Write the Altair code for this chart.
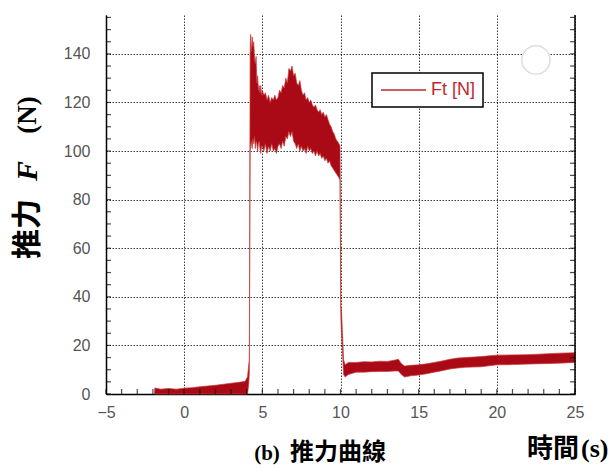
import altair as alt
import pandas as pd

# ---- data (time [s], lower / upper envelope of the noisy thrust band [N]) ----
t_vals = [-1.90, -1.88, -1.5, -1.0, -0.5, 0.0, 0.5, 1.0, 1.5, 2.0, 2.5, 3.0, 3.5, 3.9, 4.05, 4.13, 4.17,
          4.22, 4.25, 4.30, 4.35, 4.40, 4.45, 4.50, 4.55, 4.60, 4.65, 4.70, 4.75, 4.80, 4.85, 4.90, 4.95, 5.00,
          5.10, 5.20, 5.30, 5.40, 5.50, 5.60, 5.70, 5.80, 5.90, 6.00, 6.10, 6.20, 6.30, 6.40,
          6.50, 6.60, 6.70, 6.80, 6.90, 7.00, 7.10, 7.20, 7.30, 7.40, 7.50, 7.60, 7.70, 7.80,
          7.90, 8.00, 8.10, 8.20, 8.30, 8.40, 8.50, 8.60, 8.70, 8.80, 8.90, 9.00, 9.10, 9.20,
          9.30, 9.40, 9.50, 9.60, 9.70, 9.80, 9.90, 9.97, 10.02, 10.06, 10.12, 10.20, 10.30,
          10.5, 11.0, 11.5, 12.0, 12.5, 13.0, 13.5, 13.7, 13.9, 14.1, 14.5, 15.0, 15.5, 16.0,
          16.5, 17.0, 17.5, 18.0, 18.5, 19.0, 19.5, 20.0, 21.0, 22.0, 23.0, 24.0, 25.0]
lo_vals = [0, 0, 0, 0, 0, 0, 0, 0, 0, 0, 0, 0, 0, 0, 0, 4, 9,
           100, 102, 104, 101, 105, 103, 106, 101, 104, 103, 100, 103, 104, 101, 99, 102, 102,
           100, 103, 99, 102, 100, 103, 100, 101, 99, 102, 103, 101, 104, 102,
           106, 105, 108, 106, 108, 104, 103, 101, 103, 100, 102, 100, 101, 99,
           102, 100, 101, 99, 100, 98, 100, 98, 99, 97, 98, 96, 97, 95,
           96, 94, 93, 92, 91, 90, 89, 88, 32, 25, 18, 8, 7,
           8, 9, 9, 9.2, 9.3, 9.3, 9.5, 9.5, 8, 7, 7.5, 7.8, 8.3, 9,
           9.6, 10.3, 10.7, 11, 11.1, 11.2, 11.6, 12, 12.1, 12.3, 12.5, 12.7, 13]
hi_vals = [0, 2.5, 2.0, 2.3, 2.0, 2.4, 2.6, 3.0, 3.3, 3.6, 4.0, 4.4, 4.8, 5.2, 7, 12, 14,
           140, 148, 141, 147, 143, 145, 138, 136, 139, 128, 131, 125, 127, 124, 127, 123, 125,
           123, 124, 121, 123, 120, 122, 121, 123, 121, 122, 125, 124, 127, 126,
           130, 128, 134, 133, 135, 131, 132, 128, 127, 129, 125, 123, 124, 121,
           122, 120, 121, 119, 118, 119, 117, 116, 117, 115, 116, 114, 115, 113,
           111, 110, 108, 107, 105, 104, 103, 102, 36, 35, 26, 14, 12,
           13, 13, 13.3, 13.2, 13.5, 13.4, 14, 14.3, 12.5, 11.5, 11.8, 12, 12.4, 13,
           13.6, 14.3, 14.8, 15, 15.2, 15.4, 15.7, 16, 16.1, 16.2, 16.5, 16.8, 17]
series_name = ["Ft [N]"] * len(t_vals)

x_label_vals = [-5, 0, 5, 10, 15, 20, 25]
y_label_vals = [0, 20, 40, 60, 80, 100, 120, 140]
x_minor_ticks = list(range(-5, 26, 1))
y_minor_ticks = list(range(0, 160, 5))

X_MIN, X_MAX = -5, 25
Y_MIN, Y_MAX = 0, 156

df = pd.DataFrame({"t": t_vals, "lo": lo_vals, "hi": hi_vals, "series": series_name})
xt = pd.DataFrame({"v": x_minor_ticks})
yt = pd.DataFrame({"v": y_minor_ticks})
one = pd.DataFrame({"a": [0]})

W, H = 469, 379
xs = alt.Scale(domain=[X_MIN, X_MAX], nice=False, zero=False)
ys = alt.Scale(domain=[Y_MIN, Y_MAX], nice=False)

LABEL_FONT = "Liberation Sans"
GRID = dict(gridColor="#1a1a1a", gridDash=[1.5, 1.5], gridWidth=1, gridOpacity=0.85)

band = alt.Chart(df).mark_area(
    color="#A90A16", stroke="#C83A3A", strokeWidth=0.7, interpolate="linear"
).encode(
    x=alt.X("t:Q", scale=xs, title=None,
            axis=alt.Axis(values=x_label_vals, grid=True, ticks=False, domainColor="black",
                          domainWidth=1.5, labelFont=LABEL_FONT, labelFontSize=16,
                          labelColor="#555555", labelPadding=10, labelFlush=False, **GRID)),
    y=alt.Y("lo:Q", scale=ys, title=None,
            axis=alt.Axis(values=y_label_vals, grid=True, ticks=False, domainColor="black",
                          domainWidth=1.5, labelFont=LABEL_FONT, labelFontSize=16,
                          labelColor="#555555", labelPadding=16, labelFlush=False, **GRID)),
    y2="hi:Q",
    color=alt.Color("series:N", scale=alt.Scale(range=["#A90A16"]),
                    legend=alt.Legend(title=None, symbolType="stroke",
                                      symbolStrokeColor="#C0282D")),
)

right_axis = alt.Chart(one).mark_rule(color="black", strokeWidth=1.5).encode(
    x=alt.datum(X_MAX, scale=xs), y=alt.datum(Y_MIN, scale=ys), y2=alt.datum(Y_MAX)
)

ticks_bottom = alt.Chart(xt).mark_tick(
    color="black", orient="vertical", size=5, thickness=1.2, yOffset=-2.5
).encode(x=alt.X("v:Q", scale=xs), y=alt.datum(Y_MIN, scale=ys))
ticks_left = alt.Chart(yt).mark_tick(
    color="black", orient="horizontal", size=5, thickness=1.2, xOffset=2.5
).encode(y=alt.Y("v:Q", scale=ys), x=alt.datum(X_MIN, scale=xs))
ticks_right = alt.Chart(yt).mark_tick(
    color="black", orient="horizontal", size=5, thickness=1.2, xOffset=-2.5
).encode(y=alt.Y("v:Q", scale=ys), x=alt.datum(X_MAX, scale=xs))

# faint circle artefact near the top right
circle = alt.Chart(one).mark_point(
    shape="circle", filled=False, fill="white", fillOpacity=1, stroke="#dddddd",
    strokeWidth=1.5, size=800, opacity=1
).encode(x=alt.datum(22.5, scale=xs), y=alt.datum(137.5, scale=ys))


def txt(text, x, y, size, font, weight="bold", style="normal", angle=0, align="center",
        baseline="alphabetic", color="black"):
    return alt.Chart(one).mark_text(
        text=text, font=font, fontSize=size, fontWeight=weight, fontStyle=style,
        angle=angle, align=align, baseline=baseline, color=color
    ).encode(x=alt.value(x), y=alt.value(y))


cjk = "Noto Sans CJK TC"
serif = "Liberation Serif"
ytitle = [
    txt("推力", -78, 214, 30, cjk, angle=270, baseline="middle"),
    txt("F", -78, 156, 30, serif, style="italic", angle=270, baseline="middle"),
    txt("(N)", -78, 100, 27, serif, angle=270, baseline="middle"),
]
bottom = [
    txt("(b)", 161, 445, 21, serif),
    txt("推力曲線", 184, 445, 24, cjk, align="left"),
    txt("時間", 421, 442, 26, cjk, align="left"),
    txt("(s)", 475, 442, 26, serif, align="left"),
]

chart = alt.layer(
    band, right_axis, ticks_bottom, ticks_left, ticks_right, circle, *ytitle, *bottom
).properties(
    width=W, height=H,
    autosize=alt.AutoSizeParams(type="none"),
    padding={"left": 106, "top": 15, "right": 39, "bottom": 74},
).configure_view(stroke=None).configure_legend(
    orient="none", legendX=266, legendY=58, strokeColor="black", strokeWidth=1.5,
    fillColor="white", padding=8, labelFont=LABEL_FONT, labelFontSize=18,
    labelColor="#C0282D", symbolSize=2025, symbolStrokeWidth=1.5, labelOffset=4,
    clipHeight=18,
)

chart.save("out.html", embed_options={"renderer": "svg", "actions": False})
